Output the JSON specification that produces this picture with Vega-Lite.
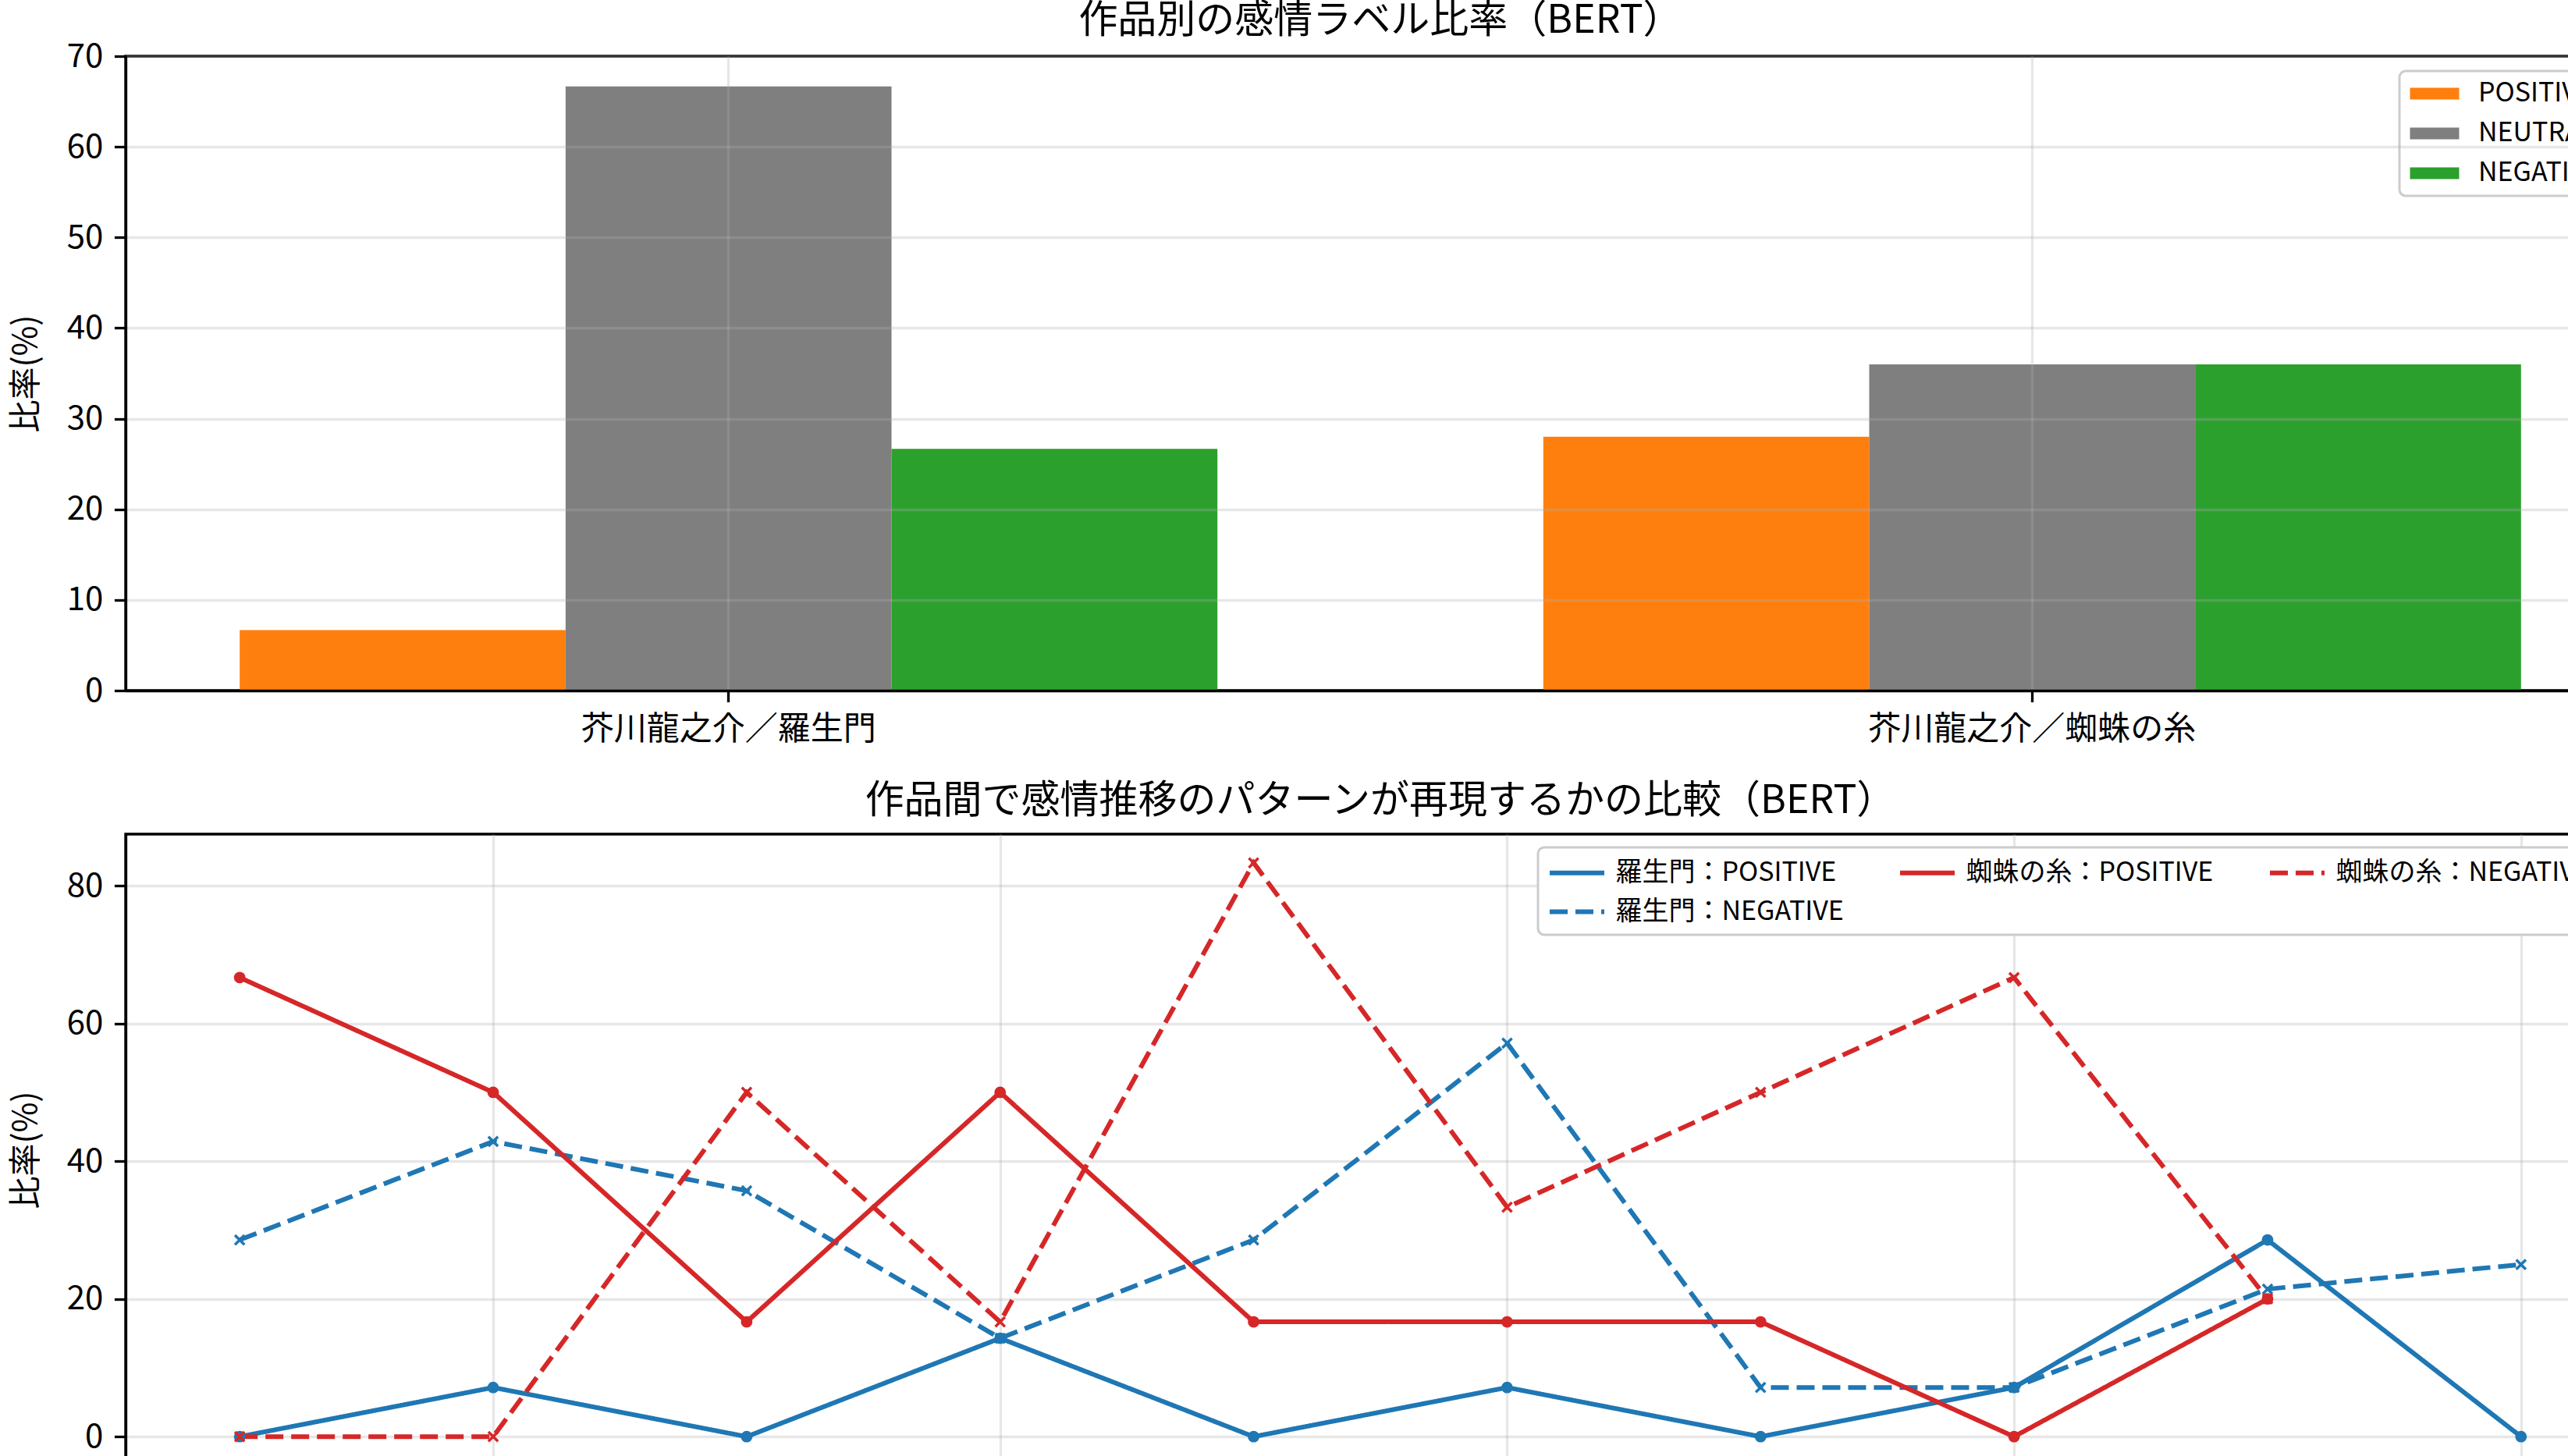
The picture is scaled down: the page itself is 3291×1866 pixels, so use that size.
{
  "$schema": "https://vega.github.io/schema/vega-lite/v6.json",
  "description": "作品別の感情ラベル比率と感情推移の比較（BERT）",
  "padding": {"left": 10, "top": 0, "right": 0, "bottom": 0},
  "background": "white",
  "spacing": 43,
  "config": {
    "font": "Noto Sans CJK JP",
    "view": {"stroke": "black", "strokeWidth": 3.3},
    "axis": {
      "domainColor": "black",
      "domainWidth": 3.3,
      "tickColor": "black",
      "tickWidth": 3.3,
      "tickSize": 14.6,
      "labelFontSize": 42,
      "labelColor": "black",
      "labelPadding": 14.6,
      "labelLimit": 0,
      "labelFont": "Noto Sans CJK JP",
      "titleFont": "Noto Sans CJK JP",
      "titleFontSize": 42,
      "titleFontWeight": "normal",
      "titleColor": "black",
      "titlePadding": 30,
      "gridColor": "#b0b0b0",
      "gridOpacity": 0.3,
      "gridWidth": 3.3
    },
    "title": {"font": "Noto Sans CJK JP", "fontSize": 50, "fontWeight": "normal", "color": "black"},
    "legend": {
      "labelFont": "Noto Sans CJK JP",
      "labelFontSize": 34,
      "labelColor": "black",
      "labelLimit": 0,
      "strokeColor": "#cccccc",
      "strokeWidth": 3,
      "fillColor": "white",
      "cornerRadius": 8,
      "title": null
    }
  },
  "resolve": {
    "scale": {"color": "independent", "strokeDash": "independent"},
    "legend": {"color": "independent", "strokeDash": "independent"}
  },
  "vconcat": [
    {
      "title": {"text": "作品別の感情ラベル比率（BERT）", "offset": -1},
      "width": 3216,
      "height": 813,
      "data": {
        "values": [
          {"work": "芥川龍之介／羅生門", "label": "POSITIVE", "ratio": 6.67},
          {"work": "芥川龍之介／羅生門", "label": "NEUTRAL", "ratio": 66.67},
          {"work": "芥川龍之介／羅生門", "label": "NEGATIVE", "ratio": 26.67},
          {"work": "芥川龍之介／蜘蛛の糸", "label": "POSITIVE", "ratio": 28.0},
          {"work": "芥川龍之介／蜘蛛の糸", "label": "NEUTRAL", "ratio": 36.0},
          {"work": "芥川龍之介／蜘蛛の糸", "label": "NEGATIVE", "ratio": 36.0}
        ]
      },
      "mark": {"type": "bar"},
      "encoding": {
        "x": {
          "field": "work",
          "type": "nominal",
          "sort": null,
          "scale": {"paddingInner": 0.25, "paddingOuter": 0.0875},
          "axis": {"title": null, "labelAngle": 0, "bandPosition": 0.5, "grid": true, "zindex": 1}
        },
        "xOffset": {
          "field": "label",
          "type": "nominal",
          "sort": ["POSITIVE", "NEUTRAL", "NEGATIVE"],
          "scale": {"paddingInner": 0, "paddingOuter": 0}
        },
        "y": {
          "field": "ratio",
          "type": "quantitative",
          "scale": {"domain": [0, 70], "nice": false},
          "axis": {"title": "比率(%)", "values": [0, 10, 20, 30, 40, 50, 60, 70], "zindex": 1}
        },
        "color": {
          "field": "label",
          "type": "nominal",
          "sort": ["POSITIVE", "NEUTRAL", "NEGATIVE"],
          "scale": {"domain": ["POSITIVE", "NEUTRAL", "NEGATIVE"], "range": ["#ff7f0e", "#7f7f7f", "#2ca02c"]},
          "legend": {
            "orient": "none",
            "legendX": 2914,
            "legendY": 19,
            "values": ["POSITIVE", "NEUTRAL", "NEGATIVE"],
            "symbolType": "M-2,-0.48H2V0.48H-2Z",
            "symbolSize": 992,
            "symbolOffset": 16,
            "symbolStrokeWidth": 0,
            "labelOffset": 39,
            "rowPadding": 17,
            "padding": 12
          }
        }
      }
    },
    {
      "title": {"text": "作品間で感情推移のパターンが再現するかの比較（BERT）", "offset": 17},
      "width": 3216,
      "height": 809,
      "data": {
        "values": [
          {"series": "羅生門：POSITIVE", "segment": 1, "ratio": 0},
          {"series": "羅生門：POSITIVE", "segment": 2, "ratio": 7.14},
          {"series": "羅生門：POSITIVE", "segment": 3, "ratio": 0},
          {"series": "羅生門：POSITIVE", "segment": 4, "ratio": 14.29},
          {"series": "羅生門：POSITIVE", "segment": 5, "ratio": 0},
          {"series": "羅生門：POSITIVE", "segment": 6, "ratio": 7.14},
          {"series": "羅生門：POSITIVE", "segment": 7, "ratio": 0},
          {"series": "羅生門：POSITIVE", "segment": 8, "ratio": 7.14},
          {"series": "羅生門：POSITIVE", "segment": 9, "ratio": 28.57},
          {"series": "羅生門：POSITIVE", "segment": 10, "ratio": 0},
          {"series": "羅生門：NEGATIVE", "segment": 1, "ratio": 28.57},
          {"series": "羅生門：NEGATIVE", "segment": 2, "ratio": 42.86},
          {"series": "羅生門：NEGATIVE", "segment": 3, "ratio": 35.71},
          {"series": "羅生門：NEGATIVE", "segment": 4, "ratio": 14.29},
          {"series": "羅生門：NEGATIVE", "segment": 5, "ratio": 28.57},
          {"series": "羅生門：NEGATIVE", "segment": 6, "ratio": 57.14},
          {"series": "羅生門：NEGATIVE", "segment": 7, "ratio": 7.14},
          {"series": "羅生門：NEGATIVE", "segment": 8, "ratio": 7.14},
          {"series": "羅生門：NEGATIVE", "segment": 9, "ratio": 21.43},
          {"series": "羅生門：NEGATIVE", "segment": 10, "ratio": 25.0},
          {"series": "蜘蛛の糸：POSITIVE", "segment": 1, "ratio": 66.67},
          {"series": "蜘蛛の糸：POSITIVE", "segment": 2, "ratio": 50.0},
          {"series": "蜘蛛の糸：POSITIVE", "segment": 3, "ratio": 16.67},
          {"series": "蜘蛛の糸：POSITIVE", "segment": 4, "ratio": 50.0},
          {"series": "蜘蛛の糸：POSITIVE", "segment": 5, "ratio": 16.67},
          {"series": "蜘蛛の糸：POSITIVE", "segment": 6, "ratio": 16.67},
          {"series": "蜘蛛の糸：POSITIVE", "segment": 7, "ratio": 16.67},
          {"series": "蜘蛛の糸：POSITIVE", "segment": 8, "ratio": 0},
          {"series": "蜘蛛の糸：POSITIVE", "segment": 9, "ratio": 20.0},
          {"series": "蜘蛛の糸：NEGATIVE", "segment": 1, "ratio": 0},
          {"series": "蜘蛛の糸：NEGATIVE", "segment": 2, "ratio": 0},
          {"series": "蜘蛛の糸：NEGATIVE", "segment": 3, "ratio": 50.0},
          {"series": "蜘蛛の糸：NEGATIVE", "segment": 4, "ratio": 16.67},
          {"series": "蜘蛛の糸：NEGATIVE", "segment": 5, "ratio": 83.33},
          {"series": "蜘蛛の糸：NEGATIVE", "segment": 6, "ratio": 33.33},
          {"series": "蜘蛛の糸：NEGATIVE", "segment": 7, "ratio": 50.0},
          {"series": "蜘蛛の糸：NEGATIVE", "segment": 8, "ratio": 66.67},
          {"series": "蜘蛛の糸：NEGATIVE", "segment": 9, "ratio": 20.0}
        ]
      },
      "encoding": {
        "x": {
          "field": "segment",
          "type": "quantitative",
          "scale": {"domain": [0.55, 10.45], "nice": false, "zero": false},
          "axis": {"title": null, "values": [2, 4, 6, 8, 10], "grid": true}
        },
        "y": {
          "field": "ratio",
          "type": "quantitative",
          "scale": {"domain": [-4.17, 87.5], "nice": false, "zero": false},
          "axis": {"title": "比率(%)", "values": [0, 20, 40, 60, 80], "grid": true}
        },
        "color": {
          "field": "series",
          "type": "nominal",
          "scale": {
            "domain": ["羅生門：POSITIVE", "蜘蛛の糸：POSITIVE", "蜘蛛の糸：NEGATIVE", "羅生門：NEGATIVE"],
            "range": ["#1f77b4", "#d62728", "#d62728", "#1f77b4"]
          },
          "legend": {
            "orient": "none",
            "direction": "horizontal",
            "legendX": 1810,
            "legendY": 17,
            "columns": 3,
            "values": ["羅生門：POSITIVE", "蜘蛛の糸：POSITIVE", "蜘蛛の糸：NEGATIVE", "羅生門：NEGATIVE"],
            "symbolType": "M-2,0H2",
            "symbolSize": 1225,
            "symbolOffset": 17.5,
            "symbolStrokeWidth": 6,
            "labelOffset": 29,
            "columnPadding": 60,
            "rowPadding": 12,
            "padding": 12
          }
        }
      },
      "layer": [
        {
          "mark": {"type": "line", "strokeWidth": 6},
          "encoding": {
            "strokeDash": {
              "field": "series",
              "type": "nominal",
              "scale": {
                "domain": ["羅生門：POSITIVE", "蜘蛛の糸：POSITIVE", "蜘蛛の糸：NEGATIVE", "羅生門：NEGATIVE"],
                "range": [[1, 0], [1, 0], [23, 10], [23, 10]]
              },
              "legend": null
            }
          }
        },
        {
          "transform": [{"filter": {"field": "series", "oneOf": ["羅生門：POSITIVE", "蜘蛛の糸：POSITIVE"]}}],
          "mark": {"type": "point", "shape": "circle", "filled": true, "size": 220, "opacity": 1}
        },
        {
          "transform": [{"filter": {"field": "series", "oneOf": ["羅生門：NEGATIVE", "蜘蛛の糸：NEGATIVE"]}}],
          "mark": {"type": "point", "shape": "M-1,-1L1,1M-1,1L1,-1", "filled": false, "size": 150, "strokeWidth": 3.5, "opacity": 1}
        }
      ]
    }
  ]
}
